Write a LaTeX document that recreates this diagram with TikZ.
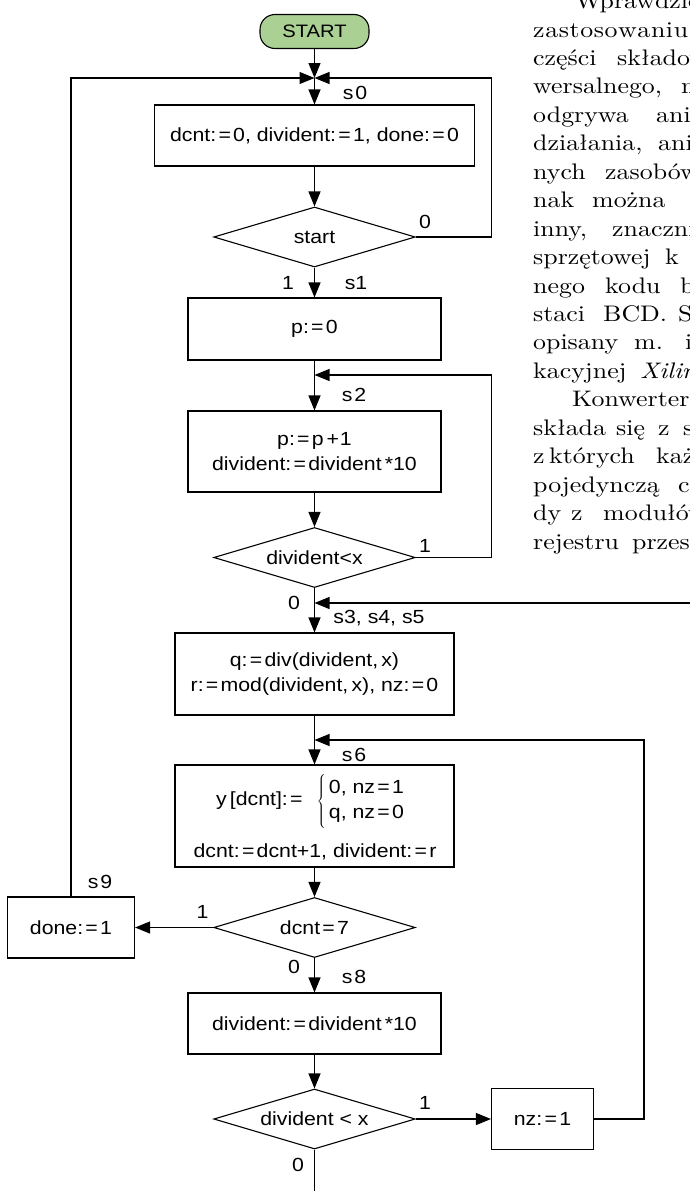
\documentclass[tikz,border=0pt]{standalone}
\usepackage{fontspec}
\newfontfamily\dgfont{Liberation Sans}[FakeStretch=1.12]
\newfontfamily\bodyfont{lmroman10-regular}[Extension=.otf, ItalicFont=lmroman10-italic, FakeStretch=1.15]
\usetikzlibrary{shapes.geometric,arrows.meta}
\definecolor{startgreen}{RGB}{170,208,147}
\newcommand\eqs{\hspace{0.12em}=\hspace{0.12em}}
\def\sprdend{sprdend-marker}
\def\mygob#1{}
\def\sprdA#1#2{#1\ifx\sprdend#2\expandafter\mygob\else\hfil\expandafter\sprdA\fi#2}
\newcommand\sprd[2]{\makebox[#1][s]{\sprdA#2\sprdend}}
\begin{document}
\begin{tikzpicture}[x=1pt,y=-1pt,
  base/.style={draw, line width=1.1pt, font=\dgfont\fontsize{19}{25.5}\selectfont, inner sep=0pt, align=center},
  procbox/.style={base, rectangle},
  decision/.style={base, diamond, aspect=3.36, minimum width=201.5pt, minimum height=60pt},
  arr/.style={-{Triangle[length=15pt,width=12pt]}, line width=1.1pt},
  ln/.style={line width=1.1pt},
  lbl/.style={font=\dgfont\fontsize{19}{22}\selectfont, inner sep=0pt},
  bodytxt/.style={anchor=base west, inner sep=0pt, font=\bodyfont\fontsize{22.5}{27}\selectfont}]
\useasboundingbox (0,0) rectangle (690,1191);
\begin{scope}
\clip (0,0) rectangle (690,1191);
% right column text (cut off at the right edge)
\node[bodytxt] (wm1a) at (575,{37-28.45}) {Wprawdzie};
\node[bodytxt] (w0a) at (533,37) {\sprd{155pt}{zastosowaniu}};
\node[bodytxt] (w1a) at (533,{37+28.45*1}) {części};
\node[bodytxt] (w1b) at (617,{37+28.45*1}) {składowych};
\node[bodytxt] (w2a) at (533,{37+28.45*2}) {wersalnego,};
\node[bodytxt] (w2b) at (681,{37+28.45*2}) {nie};
\node[bodytxt] (w3a) at (533,{37+28.45*3}) {odgrywa};
\node[bodytxt] (w3b) at (656,{37+28.45*3}) {ani};
\node[bodytxt] (w4a) at (533,{37+28.45*4}) {działania,};
\node[bodytxt] (w4b) at (658,{37+28.45*4}) {ani};
\node[bodytxt] (w5a) at (533,{37+28.45*5}) {nych};
\node[bodytxt] (w5b) at (605,{37+28.45*5}) {zasobów};
\node[bodytxt] (w6a) at (533,{37+28.45*6}) {nak};
\node[bodytxt] (w6b) at (592,{37+28.45*6}) {można};
\node[bodytxt] (w7a) at (533,{37+28.45*7}) {inny,};
\node[bodytxt] (w7b) at (612,{37+28.45*7}) {znacznie};
\node[bodytxt] (w8a) at (533,{37+28.45*8}) {sprzętowej};
\node[bodytxt] (w8b) at (665,{37+28.45*8}) {k};
\node[bodytxt] (w9a) at (533,{37+28.45*9}) {nego};
\node[bodytxt] (w9b) at (605,{37+28.45*9}) {kodu};
\node[bodytxt] (w9c) at (680,{37+28.45*9}) {binarnego};
\node[bodytxt] (w10a) at (533,{37+28.45*10}) {staci};
\node[bodytxt] (w10b) at (603,{37+28.45*10}) {BCD.};
\node[bodytxt] (w10c) at (678,{37+28.45*10}) {Sposób};
\node[bodytxt] (w11a) at (533,{37+28.45*11}) {opisany};
\node[bodytxt] (w11b) at (634,{37+28.45*11}) {m.};
\node[bodytxt] (w11c) at (685,{37+28.45*11}) {in.};
\node[bodytxt] (w12a) at (533,{37+28.45*12}) {kacyjnej};
\node[bodytxt] (w12b) at (640,{37+28.45*12}) {\itshape Xilinx};
\node[bodytxt] (w13a) at (572,{37+28.45*13}) {Konwerter};
\node[bodytxt] (w14a) at (533,{37+28.45*14}) {składa};
\node[bodytxt] (w14b) at (616,{37+28.45*14}) {się};
\node[bodytxt] (w14c) at (658,{37+28.45*14}) {z};
\node[bodytxt] (w14d) at (683,{37+28.45*14}) {szeregu};
\node[bodytxt] (w15a) at (533,{37+28.45*15}) {z};
\node[bodytxt] (w15b) at (549,{37+28.45*15}) {których};
\node[bodytxt] (w15c) at (656,{37+28.45*15}) {każdy};
\node[bodytxt] (w16a) at (533,{37+28.45*16}) {pojedynczą};
\node[bodytxt] (w16b) at (678,{37+28.45*16}) {cyfrę};
\node[bodytxt] (w17a) at (533,{37+28.45*17}) {dy};
\node[bodytxt] (w17b) at (571,{37+28.45*17}) {z};
\node[bodytxt] (w17c) at (603,{37+28.45*17}) {modułów};
\node[bodytxt] (w18a) at (533,{37+28.45*18}) {rejestru};
\node[bodytxt] (w18b) at (632,{37+28.45*18}) {przesuwnego};
\end{scope}

% flowchart nodes
\node[base, rectangle, rounded corners=15pt, fill=startgreen, minimum width=109pt, minimum height=34pt, font=\dgfont\fontsize{18}{22}\selectfont] (start) at (314.5,31.5) {START};
\coordinate (j0) at (314.5,78);
\node[procbox, minimum width=319.5pt, minimum height=61pt] (b1) at (314.5,135.5) {dcnt:\eqs 0, divident:\eqs 1, done:\eqs 0};
\node[decision] (d1) at (314.5,237) {start};
\node[procbox, minimum width=253pt, minimum height=62pt] (b2) at (314.5,329) {p:\eqs 0};
\coordinate (j1) at (314.5,375);
\node[procbox, minimum width=253pt, minimum height=81pt] (b3) at (314.5,451.5) {p:\eqs p\hspace{0.15em}+\hspace{0.05em}1\\divident:\eqs divident\,*10};
\node[decision] (d2) at (314.5,557.5) {divident<x};
\coordinate (j2) at (314.5,603);
\node[procbox, minimum width=279pt, minimum height=82pt] (b4) at (314.5,674) {q:\eqs div(divident,\,x)\\r:\eqs mod(divident,\,x), nz:\eqs 0};
\coordinate (j3) at (314.5,740);
\node[procbox, minimum width=279pt, minimum height=102pt] (b5) at (314.5,816) {};
\node[lbl, font=\dgfont\fontsize{19}{25}\selectfont] (b5a) at (310,801) {y\,[dcnt]:\eqs\hspace{12pt}$\left\{\rule[-24pt]{0pt}{57pt}\right.$\hspace{2pt}\begin{tabular}{@{}l@{}}0, nz\eqs 1\\q, nz\eqs 0\end{tabular}};
\node[lbl, anchor=base] (b5b) at (315,857) {dcnt:\eqs dcnt+1, divident:\eqs r};
\node[decision] (d3) at (314.5,927.5) {dcnt\eqs 7};
\node[procbox, minimum width=127pt, minimum height=61pt] (done) at (71,927.5) {done:\eqs 1};
\node[procbox, minimum width=253pt, minimum height=61pt] (b6) at (314.5,1023.5) {divident:\eqs divident\,*10};
\node[decision] (d4) at (314.5,1119) {divident < x};
\node[procbox, minimum width=102pt, minimum height=61pt] (nz) at (542.5,1119) {nz:\eqs 1};

\coordinate (r1) at (491.6,237);
\coordinate (r2) at (491.6,557.5);
\coordinate (redge) at (690,603);
\coordinate (r3) at (644,1119);
\coordinate (bot) at (314.5,1191);

% connectors
\draw[arr] (start.south) -- (j0);
\draw[arr] (done.north) |- (j0);
\draw[arr] (d1.east) -- (r1) |- (j0);
\draw[arr] (j0) -- (b1.north);
\draw[arr] (b1.south) -- (d1.north);
\draw[arr] (d1.south) -- (b2.north);
\draw[arr] (b2.south) -- (b3.north);
\draw[arr] (d2.east) -- (r2) |- (j1);
\draw[arr] (b3.south) -- (d2.north);
\draw[arr] (d2.south) -- (b4.north);
\draw[arr] (redge) -- (j2);
\draw[arr] (b4.south) -- (b5.north);
\draw[arr] (nz.east) -- (r3) |- (j3);
\draw[arr] (b5.south) -- (d3.north);
\draw[arr] (d3.west) -- (done.east);
\draw[arr] (d3.south) -- (b6.north);
\draw[arr] (b6.south) -- (d4.north);
\draw[arr] (d4.east) -- (nz.west);
\draw[ln] (d4.south) -- (bot);

% labels
\node[lbl] (ls0) at (355,93) {s\hspace{2pt}0};
\node[lbl] (l0a) at (425,222) {0};
\node[lbl] (l1a) at (288,283) {1};
\node[lbl] (ls1) at (356,283) {s1};
\node[lbl] (ls2) at (354,395) {s\hspace{2pt}2};
\node[lbl] (l1b) at (425,546) {1};
\node[lbl] (l0b) at (294,603) {0};
\node[lbl] (ls3) at (379,618) {s3, s4, s5};
\node[lbl] (ls6) at (354,755) {s\hspace{2pt}6};
\node[lbl] (ls9) at (100,882) {s\hspace{2pt}9};
\node[lbl] (l1c) at (202.5,912) {1};
\node[lbl] (l0c) at (294,967) {0};
\node[lbl] (ls8) at (354,977) {s\hspace{2pt}8};
\node[lbl] (l1d) at (425,1103) {1};
\node[lbl] (l0d) at (298,1165) {0};
\end{tikzpicture}
\end{document}
